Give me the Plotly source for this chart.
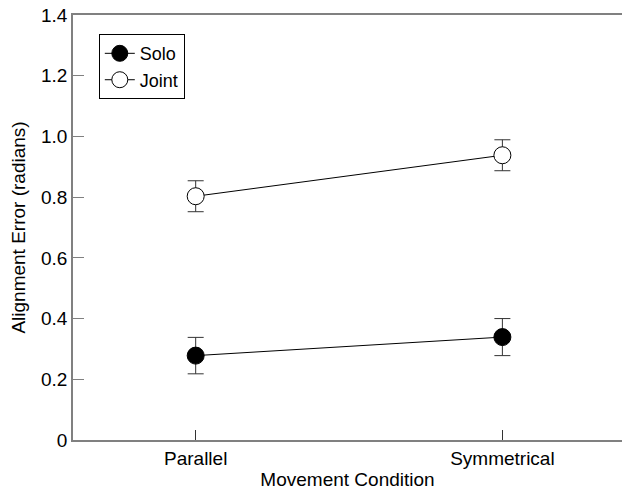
import plotly.graph_objects as go

conditions = ["Parallel", "Symmetrical"]
solo_mean = [0.278, 0.339]
solo_err = [0.060, 0.061]
joint_mean = [0.803, 0.938]
joint_err = [0.051, 0.051]
y_tickvals = [0, 0.2, 0.4, 0.6, 0.8, 1.0, 1.2, 1.4]
y_ticktext = ["0", "0.2", "0.4", "0.6", "0.8", "1.0", "1.2", "1.4"]

font = "Liberation Sans, Arial, Helvetica, sans-serif"
fs = 19

fig = go.Figure()
for name, mean, err, fill in [("Solo", solo_mean, solo_err, "black"),
                              ("Joint", joint_mean, joint_err, "white")]:
    fig.add_trace(go.Scatter(
        x=[0, 1], y=mean, name=name, mode="lines+markers",
        line=dict(color="black", width=1),
        marker=dict(size=17, color=fill, line=dict(color="black", width=1)),
        error_y=dict(type="data", array=err, visible=True, color="#333333",
                     thickness=1, width=8),
    ))

fig.update_layout(
    width=622, height=490,
    margin=dict(l=73, r=0, t=15, b=50),
    paper_bgcolor="white", plot_bgcolor="white",
    font=dict(family=font, size=fs, color="black"),
    showlegend=True,
    legend=dict(x=0.047, y=0.955, xanchor="left", yanchor="top",
                bordercolor="black", borderwidth=1, bgcolor="white",
                font=dict(size=18), itemwidth=30, tracegroupgap=0),
    xaxis=dict(range=[-0.4, 1.39], tickvals=[0, 1], ticktext=conditions,
               ticks="inside", ticklen=10, tickcolor="#333333",
               tickfont=dict(size=fs),
               showline=True, linecolor="#808080", linewidth=1.5, mirror=True,
               showgrid=False, zeroline=False,
               title=dict(text="Movement Condition", standoff=8,
                          font=dict(size=fs))),
    yaxis=dict(range=[0, 1.4], tickvals=y_tickvals, ticktext=y_ticktext,
               ticks="inside", ticklen=11, tickcolor="#808080",
               tickfont=dict(size=fs),
               showline=True, linecolor="#808080", linewidth=1.5,
               showgrid=False, zeroline=False,
               title=dict(text="Alignment Error (radians)", standoff=10,
                          font=dict(size=fs))),
)

fig.write_html("out.html", config={"displayModeBar": False},
               post_script="document.body.style.margin='0';document.body.style.overflow='hidden';")
